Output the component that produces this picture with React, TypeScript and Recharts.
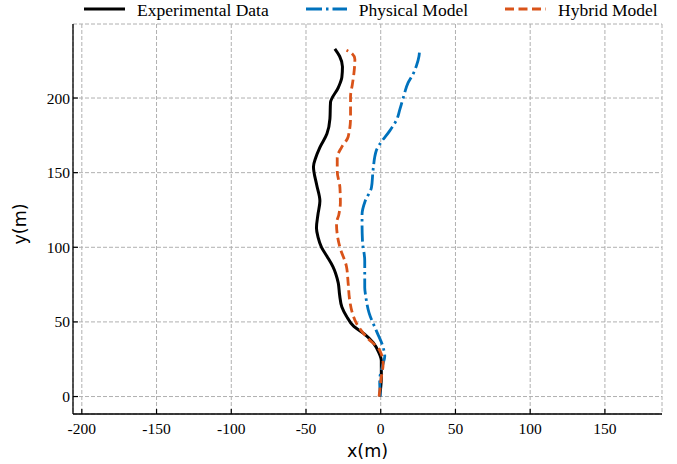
import React from "react";
import {
  CartesianGrid,
  Legend,
  Line,
  LineChart,
  XAxis,
  YAxis,
} from "recharts";

// trajectories (y ascending from the origin)
const expY = [0, 13, 24, 30, 36, 42, 47, 54, 60, 68, 76, 82, 87, 94, 100, 107, 113, 122, 131, 142, 154, 160, 167, 176, 186, 197, 207, 214, 221, 228, 233];
const expX = [-0.7, 0.4, 0.4, -1.5, -5, -11, -18, -23, -26, -27.5, -28.4, -30, -32, -36, -39.6, -42, -43, -42, -40.7, -42.9, -45, -43.5, -40.7, -36, -34, -33.6, -28.4, -26, -25.6, -27.5, -30.7];

const physY = [0, 11, 20, 27, 33, 44, 56, 67, 73, 91, 104, 116, 122, 131, 140, 152, 165, 169, 178, 186, 192, 201, 210, 216, 222, 228, 233];
const physX = [-0.3, -0.7, 1, 2.7, 1.6, -2.9, -7.8, -10, -10.7, -10.7, -12.2, -12.5, -12.5, -10.4, -6.2, -5.1, -2.9, -0.7, 6, 10.9, 12.7, 15.3, 18.2, 21.6, 24, 25.6, 26];

const hybY = [0, 13, 22, 31, 40, 49, 56, 64, 76, 87, 100, 108, 116, 122, 130, 140, 151, 160, 167, 174, 187, 201, 209, 216, 226, 230, 232];
const hybX = [-1.1, 0.4, 1.6, -0.7, -9.6, -16.2, -19, -20.7, -21.8, -22.9, -27.3, -29, -29.6, -28, -27, -27.3, -29.1, -29.1, -26.2, -21.8, -20.2, -20.2, -19, -18, -17.3, -19.5, -22.9];

const xTicks = [-200, -150, -100, -50, 0, 50, 100, 150];
const yTicks = [0, 50, 100, 150, 200];

const toPoints = (xs: number[], ys: number[]) => xs.map((x, i) => ({ x, y: ys[i] }));

const series = [
  { name: "Experimental Data", data: toPoints(expX, expY), color: "#000000", dash: undefined as string | undefined, width: 3 },
  { name: "Physical Model", data: toPoints(physX, physY), color: "#0072BD", dash: "16 4 2.5 4", width: 2.8 },
  { name: "Hybrid Model", data: toPoints(hybX, hybY), color: "#D95319", dash: "9 4.5", width: 2.8 },
];

const serif = "'Liberation Serif', 'Times New Roman', serif";
const sans = "'DejaVu Sans', sans-serif";
const TICK_FONT = 15.5;
const TICK_LEN = 5;
const X_MARGIN = 9;
const Y_MARGIN = 3;

function LegendRow() {
  return (
    <div style={{ display: "flex", alignItems: "center", height: 20, paddingLeft: 84, fontFamily: serif, fontSize: 17.5, color: "#000" }}>
      {series.map((s, i) => (
        <div key={s.name} style={{ display: "flex", alignItems: "center", marginLeft: i === 0 ? 0 : 37 }}>
          <svg width={41} height={10} style={{ marginTop: -3 }}>
            <line x1={0} y1={5} x2={41} y2={5} stroke={s.color} strokeWidth={3} strokeDasharray={s.dash} />
          </svg>
          <span style={{ marginLeft: 12, lineHeight: "20px" }}>{s.name}</span>
        </div>
      ))}
    </div>
  );
}

// tick label plus an inward tick mark
const XTick = (props: any) => {
  const { x, y, payload } = props;
  const axisY = y - X_MARGIN;
  return (
    <g>
      <line x1={x} x2={x} y1={axisY} y2={axisY - TICK_LEN} stroke="#000" strokeWidth={1.2} />
      <text x={x} y={y} dy="0.71em" textAnchor="middle" fontFamily={serif} fontSize={TICK_FONT} fill="#000">
        {payload.value}
      </text>
    </g>
  );
};

const YTick = (props: any) => {
  const { x, y, payload } = props;
  const axisX = x + Y_MARGIN;
  return (
    <g>
      <line x1={axisX} x2={axisX + TICK_LEN} y1={y} y2={y} stroke="#000" strokeWidth={1.2} />
      <text x={x} y={y} dy="0.355em" textAnchor="end" fontFamily={serif} fontSize={TICK_FONT} fill="#000">
        {payload.value}
      </text>
    </g>
  );
};

const XLabel = (props: any) => {
  const { x, y, width } = props.viewBox;
  return (
    <text x={x + width / 2} y={y + 43} textAnchor="middle" fontFamily={sans} fontSize={17.5} fill="#000">
      x(m)
    </text>
  );
};

const YLabel = (props: any) => {
  const { x, y, height } = props.viewBox;
  const cx = x + 20;
  const cy = y + height / 2 + 5;
  return (
    <text x={cx} y={cy} transform={`rotate(-90 ${cx} ${cy})`} textAnchor="middle" dominantBaseline="central" fontFamily={sans} fontSize={17.5} fill="#000">
      y(m)
    </text>
  );
};

export default function App() {
  return (
    <div style={{ position: "fixed", left: 0, top: 0, width: 677, height: 464, background: "#fff" }}>
      <LineChart width={677} height={464} margin={{ top: 4, right: 15, bottom: 0, left: 0 }}>
        <CartesianGrid stroke="#b0b0b0" strokeDasharray="4 2" strokeWidth={1} />
        <XAxis
          type="number"
          dataKey="x"
          domain={[-205.9, 188.2]}
          allowDataOverflow
          ticks={xTicks}
          interval={0}
          height={50}
          tick={<XTick />}
          tickSize={0}
          tickMargin={X_MARGIN}
          tickLine={false}
          axisLine={{ stroke: "#000", strokeWidth: 1.3 }}
          label={<XLabel />}
        />
        <XAxis
          xAxisId="top"
          orientation="top"
          type="number"
          domain={[-205.9, 188.2]}
          allowDataOverflow
          height={0}
          tick={false}
          tickLine={false}
          axisLine={{ stroke: "#000", strokeWidth: 1.3 }}
        />
        <YAxis
          type="number"
          dataKey="y"
          domain={[-11.7, 249.6]}
          allowDataOverflow
          ticks={yTicks}
          interval={0}
          width={73}
          tick={<YTick />}
          tickSize={0}
          tickMargin={Y_MARGIN}
          tickLine={false}
          axisLine={{ stroke: "#000", strokeWidth: 1.3 }}
          label={<YLabel />}
        />
        <YAxis
          yAxisId="right"
          orientation="right"
          type="number"
          domain={[-11.7, 249.6]}
          allowDataOverflow
          width={0}
          tick={false}
          tickLine={false}
          axisLine={{ stroke: "#000", strokeWidth: 1.3 }}
        />
        <Legend
          verticalAlign="top"
          align="left"
          wrapperStyle={{ top: 0, left: 0, width: 677, height: 20 }}
          content={() => <LegendRow />}
        />
        {series.map((s) => (
          <Line
            key={s.name}
            data={s.data}
            dataKey="y"
            name={s.name}
            type="monotoneY"
            stroke={s.color}
            strokeWidth={s.width}
            strokeDasharray={s.dash}
            dot={false}
            activeDot={false}
            isAnimationActive={false}
          />
        ))}
      </LineChart>
    </div>
  );
}
